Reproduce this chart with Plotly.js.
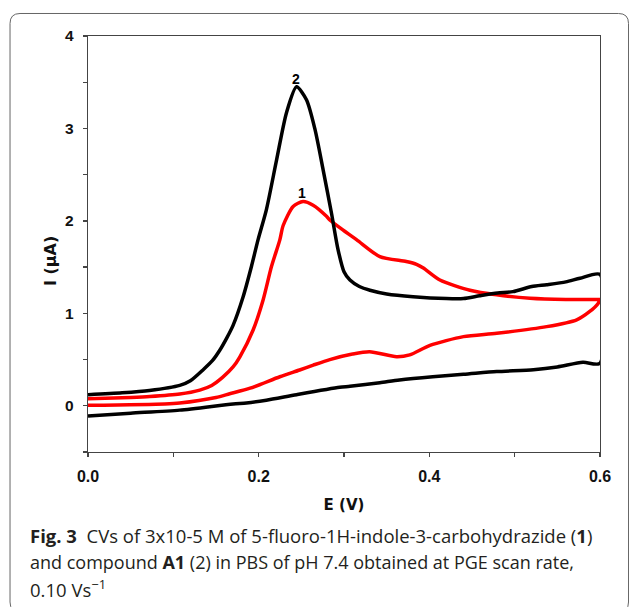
<!DOCTYPE html>
<html>
<head>
<meta charset="utf-8">
<script src="https://cdn.plot.ly/plotly-3.0.1.min.js"></script>
<style>html,body{margin:0;padding:0;background:#fff;}#chart{width:629px;height:607px;}</style>
</head>
<body>
<div id="chart"></div>
<script>
// Curve 2 (compound A1) - black, forward (anodic) scan
var c2FwdE = [0.0, 0.04, 0.072, 0.1075, 0.12, 0.135, 0.146, 0.1544, 0.163, 0.17, 0.1818, 0.1916, 0.1994, 0.209, 0.221, 0.2326, 0.2444, 0.256, 0.266, 0.2756, 0.2854, 0.293, 0.3, 0.307, 0.318, 0.3304, 0.35, 0.381, 0.42, 0.44, 0.459, 0.48, 0.498, 0.52, 0.5375, 0.56, 0.5766, 0.6];
var c2FwdI = [0.12, 0.14, 0.165, 0.22, 0.27, 0.39, 0.49, 0.60, 0.74, 0.87, 1.18, 1.51, 1.80, 2.12, 2.66, 3.17, 3.45, 3.31, 2.99, 2.55, 2.08, 1.69, 1.45, 1.36, 1.29, 1.25, 1.21, 1.18, 1.16, 1.16, 1.19, 1.22, 1.235, 1.29, 1.31, 1.34, 1.38, 1.42];
// Curve 2 - reverse scan
var c2RevE = [0.6, 0.58, 0.55, 0.522, 0.479, 0.44, 0.404, 0.365, 0.342, 0.307, 0.295, 0.2444, 0.209, 0.1857, 0.17, 0.1075, 0.05, 0.0];
var c2RevI = [0.46, 0.47, 0.42, 0.39, 0.37, 0.34, 0.315, 0.28, 0.25, 0.21, 0.20, 0.12, 0.06, 0.03, 0.02, -0.047, -0.08, -0.11];

// Curve 1 (5-fluoro-1H-indole-3-carbohydrazide) - red, forward scan
var c1FwdE = [0.0, 0.05, 0.0725, 0.1075, 0.131, 0.145, 0.158, 0.17, 0.178, 0.1935, 0.2052, 0.215, 0.2248, 0.2287, 0.2404, 0.252, 0.2638, 0.2795, 0.2834, 0.299, 0.315, 0.342, 0.373, 0.385, 0.393, 0.4124, 0.4476, 0.479, 0.518, 0.56, 0.6];
var c1FwdI = [0.075, 0.09, 0.10, 0.127, 0.17, 0.22, 0.31, 0.42, 0.53, 0.82, 1.145, 1.506, 1.795, 1.95, 2.156, 2.21, 2.17, 2.05, 2.01, 1.90, 1.795, 1.614, 1.56, 1.53, 1.49, 1.36, 1.25, 1.20, 1.163, 1.15, 1.15];
// Curve 1 - reverse scan
var c1RevE = [0.6, 0.598, 0.588, 0.5727, 0.5375, 0.479, 0.44, 0.4007, 0.377, 0.3616, 0.33, 0.31, 0.2834, 0.264, 0.248, 0.2248, 0.19, 0.166, 0.15, 0.1075, 0.09, 0.0];
var c1RevI = [1.15, 1.11, 1.02, 0.93, 0.856, 0.784, 0.748, 0.654, 0.55, 0.53, 0.585, 0.56, 0.50, 0.44, 0.387, 0.314, 0.19, 0.13, 0.09, 0.03, 0.02, 0.005];

var xTickVals = [0.0, 0.2, 0.4, 0.6];
var xTickText = ["0.0", "0.2", "0.4", "0.6"];
var yTickVals = [0, 1, 2, 3, 4];
var yTickText = ["0", "1", "2", "3", "4"];

var xTitle = "E (V)";
var yTitle = "I (µA)";
var captionLines = [
  "<b>Fig. 3</b>  CVs of 3x10-5 M of 5-fluoro-1H-indole-3-carbohydrazide (<b>1</b>)",
  "and compound <b>A1</b> (2) in PBS of pH 7.4 obtained at PGE scan rate,",
  "0.10 Vs<sup>−1</sup>"
];
var curveLabels = ["2", "1"];
var curveLabelE = [0.2432, 0.2502];
var curveLabelI = [3.54, 2.30];

var traces = [
  {x: c1FwdE.concat(c1RevE), y: c1FwdI.concat(c1RevI), mode: 'lines', type: 'scatter',
   line: {color: '#ff0000', width: 3.5, shape: 'spline', smoothing: 0.7}, name: '1', hoverinfo: 'skip'},
  {x: c2FwdE.concat(c2RevE), y: c2FwdI.concat(c2RevI), mode: 'lines', type: 'scatter',
   line: {color: '#000000', width: 3.5, shape: 'spline', smoothing: 0.7}, name: '2', hoverinfo: 'skip'}
];

var xTickFont = {family: 'Liberation Sans, Arial, sans-serif', size: 16, color: '#111', weight: 'bold'};
var yTickFont = {family: 'Liberation Sans, Arial, sans-serif', size: 15.5, color: '#111', weight: 'bold'};
var titleFont = {family: 'DejaVu Sans, sans-serif', size: 15, color: '#111', weight: 'bold'};

var x0 = -0.1523, x1 = 1.0557, yt = 1.0541, yb = -0.3846, rx = 0.01953, ry = 0.02404;
var borderPath = 'M ' + (x0 + rx) + ',' + yt + ' L ' + (x1 - rx) + ',' + yt +
  ' Q ' + x1 + ',' + yt + ' ' + x1 + ',' + (yt - ry) +
  ' L ' + x1 + ',' + (yb + ry) + ' Q ' + x1 + ',' + yb + ' ' + (x1 - rx) + ',' + yb +
  ' L ' + (x0 + rx) + ',' + yb + ' Q ' + x0 + ',' + yb + ' ' + x0 + ',' + (yb + ry) +
  ' L ' + x0 + ',' + (yt - ry) + ' Q ' + x0 + ',' + yt + ' ' + (x0 + rx) + ',' + yt + ' Z';

var annotations = [];
var capY = [-0.2019, -0.2644, -0.3270];
var capSize = [18.5, 18.0, 18.5];
for (var i = 0; i < captionLines.length; i++) {
  annotations.push({xref: 'paper', yref: 'paper', x: -0.1172, y: capY[i], xanchor: 'left', yanchor: 'middle',
    text: captionLines[i], showarrow: false, align: 'left',
    font: {family: 'Open Sans, sans-serif', size: capSize[i], color: '#231f20'}});
}
for (var j = 0; j < curveLabels.length; j++) {
  annotations.push({xref: 'x', yref: 'y', x: curveLabelE[j], y: curveLabelI[j], text: curveLabels[j],
    showarrow: false, xanchor: 'center', yanchor: 'middle',
    font: {family: 'Liberation Sans, Arial, sans-serif', size: 14, color: '#000', weight: 'bold'}});
}
annotations.push({xref: 'paper', yref: 'paper', x: -0.0730, y: 0.458, xanchor: 'center', yanchor: 'middle',
  text: yTitle, textangle: -90, showarrow: false, font: {family: 'DejaVu Sans, sans-serif', size: 16, color: '#111', weight: 'bold'}});

var layout = {
  width: 629, height: 607,
  margin: {l: 88, r: 29, t: 36, b: 155, pad: 0},
  paper_bgcolor: '#fff', plot_bgcolor: '#fff',
  showlegend: false,
  xaxis: {
    range: [0, 0.6], autorange: false, showgrid: false, zeroline: false,
    showline: true, linecolor: '#444', linewidth: 1.3, mirror: true,
    ticks: 'outside', ticklen: 4, tickwidth: 1.3, tickcolor: '#444',
    tickvals: xTickVals, ticktext: xTickText, tickfont: xTickFont, ticklabelstandoff: 5,
    minor: {ticks: 'outside', ticklen: 4, tickwidth: 1.3, tickcolor: '#444', dtick: 0.1, tick0: 0, showgrid: false},
    title: {text: xTitle, font: titleFont, standoff: 16}
  },
  yaxis: {
    range: [-0.5, 4], autorange: false, showgrid: false, zeroline: false,
    showline: true, linecolor: '#444', linewidth: 1.3, mirror: true,
    ticks: 'outside', ticklen: 4, tickwidth: 1.3, tickcolor: '#444',
    tickvals: yTickVals, ticktext: yTickText, tickfont: yTickFont, ticklabelstandoff: 6,
    minor: {ticks: 'outside', ticklen: 4, tickwidth: 1.3, tickcolor: '#444', dtick: 0.5, tick0: 0, showgrid: false}
  },
  shapes: [{type: 'path', xref: 'paper', yref: 'paper', path: borderPath,
    line: {color: '#666', width: 1}, fillcolor: 'rgba(0,0,0,0)', layer: 'below'}],
  annotations: annotations
};

Plotly.newPlot('chart', traces, layout, {staticPlot: true, displayModeBar: false});
</script>
</body>
</html>
